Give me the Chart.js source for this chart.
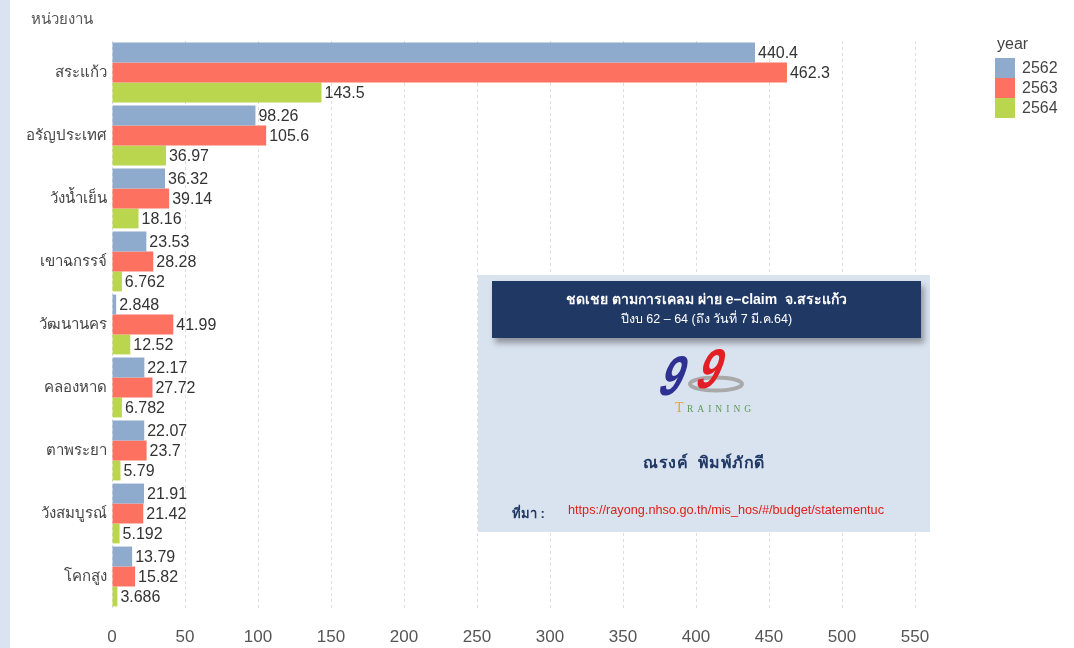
<!DOCTYPE html>
<html>
<head>
<meta charset="utf-8">
<script src="https://cdn.jsdelivr.net/npm/chart.js@4.4.0/dist/chart.umd.min.js"></script>
<style>
    body { margin: 0; background: #fff; font-family: 'Liberation Sans', Arial, sans-serif; }
    #wrap { position: relative; width: 1074px; height: 648px; overflow: hidden; }
    #strip { position: absolute; left: 0; top: 0; width: 10px; height: 648px; background: #dae4f1; }
    #ytitle { position: absolute; left: 31px; top: 7px; font-size: 15px; color: #555; }
    #legend { position: absolute; left: 995px; top: 35px; font-size: 16px; color: #444; }
    #legend .t { margin-left: 2px; margin-bottom: 5px; }
    #legend .row { display: flex; align-items: center; height: 20px; }
    #legend .sw { width: 20px; height: 20px; margin-right: 7px; }
    #box { position: absolute; left: 478px; top: 275px; width: 452px; height: 257px; background: #d9e2ef; }
    #head { position: absolute; left: 14px; top: 6px; width: 429px; height: 57px; background: #1f3864;
        box-shadow: 3px 5px 6px rgba(0,0,0,0.35); color: #fff; font-size: 14px; font-weight: bold;
        text-align: center; line-height: 20px; padding-top: 8px; box-sizing: border-box; }
    #head .l2 { font-weight: normal; font-size: 12.5px; }
    #name { position: absolute; left: 0; width: 452px; top: 175px; text-align: center; font-size: 16px;
        font-weight: bold; color: #1f3864; letter-spacing: 0.5px; }
    #src { position: absolute; left: 34px; top: 228px; font-size: 13px; font-weight: bold; color: #1f3864; }
    #url { position: absolute; left: 90px; top: 228px; font-size: 12.7px; color: #e0201a; }
</style>
</head>
<body>
<div id="wrap">
    <canvas id="bar_chart" width="1074" height="648"></canvas>
    <div id="strip"></div>
    <div id="ytitle">หน่วยงาน</div>
    <div id="legend"></div>
    <div id="box">
        <div id="head">
            <div>ชดเชย ตามการเคลม ผ่าย e–claim &nbsp;จ.สระแก้ว</div>
            <div class="l2">ปีงบ 62 – 64 (ถึง วันที่ 7 มี.ค.64)</div>
        </div>
        <svg style="position:absolute;left:180px;top:74px" width="100" height="72">
            <ellipse cx="58" cy="35" rx="26" ry="6.5" fill="none" stroke="#a9a9a9" stroke-width="4"/>
            <g transform="skewX(-22)">
                <text x="22" y="46" font-size="56" font-weight="bold" fill="#2e3192" font-family="Liberation Sans" transform="scale(0.72,1)">9</text>
                <text x="70" y="39" font-size="56" font-weight="bold" fill="#e31e24" font-family="Liberation Sans" transform="scale(0.72,1)">9</text>
            </g>
            <text x="17" y="63" font-size="14" fill="#e8a23a" font-family="Liberation Serif">T</text>
            <text x="29" y="63" font-size="9.5" fill="#5a9a55" font-family="Liberation Serif" letter-spacing="4">RAINING</text>
        </svg>
        <div id="name">ณรงค์ &nbsp;พิมพ์ภักดี</div>
        <div id="src">ที่มา :</div>
        <div id="url">https://rayong.nhso.go.th/mis_hos/#/budget/statementuc</div>
    </div>
</div>
<script>
const categories = ['สระแก้ว', 'อรัญประเทศ', 'วังน้ำเย็น', 'เขาฉกรรจ์', 'วัฒนานคร', 'คลองหาด', 'ตาพระยา', 'วังสมบูรณ์', 'โคกสูง'];
const years = ['2562', '2563', '2564'];
const values_2562 = [440.4, 98.26, 36.32, 23.53, 2.848, 22.17, 22.07, 21.91, 13.79];
const values_2563 = [462.3, 105.6, 39.14, 28.28, 41.99, 27.72, 23.7, 21.42, 15.82];
const values_2564 = [143.5, 36.97, 18.16, 6.762, 12.52, 6.782, 5.79, 5.192, 3.686];
const colors = ['#8eaacd', '#fd7161', '#bad64f'];

// legend (html)
const legend = document.getElementById('legend');
legend.innerHTML = '<div class="t">year</div>' + years.map((y, i) =>
    '<div class="row"><div class="sw" style="background:' + colors[i] + '"></div>' + y + '</div>').join('');

// value labels at the end of each bar
const valueLabels = {
    id: 'valueLabels',
    afterDatasetsDraw(chart) {
        const ctx = chart.ctx;
        ctx.save();
        ctx.font = '16px "Liberation Sans", Arial, sans-serif';
        ctx.fillStyle = '#333';
        ctx.textBaseline = 'middle';
        ctx.textAlign = 'left';
        chart.data.datasets.forEach((ds, i) => {
            chart.getDatasetMeta(i).data.forEach((bar, j) => {
                ctx.fillText(String(ds.data[j]), bar.x + 3, bar.y + 1);
            });
        });
        ctx.restore();
    }
};

const data = {
    labels: categories,
    datasets: [
        { label: years[0], data: values_2562, backgroundColor: colors[0] },
        { label: years[1], data: values_2563, backgroundColor: colors[1] },
        { label: years[2], data: values_2564, backgroundColor: colors[2] },
    ]
};

const config = {
    type: 'bar',
    data: data,
    options: {
        indexAxis: 'y',
        responsive: false,
        animation: false,
        categoryPercentage: 0.95,
        barPercentage: 1.0,
        layout: { padding: { left: 0, right: 159, top: 41, bottom: 0 } },
        plugins: {
            legend: { display: false },
            title: { display: false },
            tooltip: { enabled: false }
        },
        scales: {
            x: {
                min: 0,
                max: 550,
                ticks: {
                    stepSize: 50,
                    color: '#555',
                    padding: 19,
                    font: { family: 'Liberation Sans', size: 17 }
                },
                grid: {
                    color: '#dddddd',
                    drawTicks: false
                },
                border: { display: false, dash: [3, 3] },
                afterFit: (scale) => { scale.height = 40; }
            },
            y: {
                ticks: {
                    color: '#444',
                    padding: 5,
                    font: { family: 'Noto Sans', size: 15 }
                },
                grid: { display: false, drawTicks: false },
                border: { display: false },
                afterFit: (scale) => { scale.width = 112; }
            }
        }
    },
    plugins: [valueLabels]
};

const myChart = new Chart(document.getElementById('bar_chart'), config);
</script>
</body>
</html>
